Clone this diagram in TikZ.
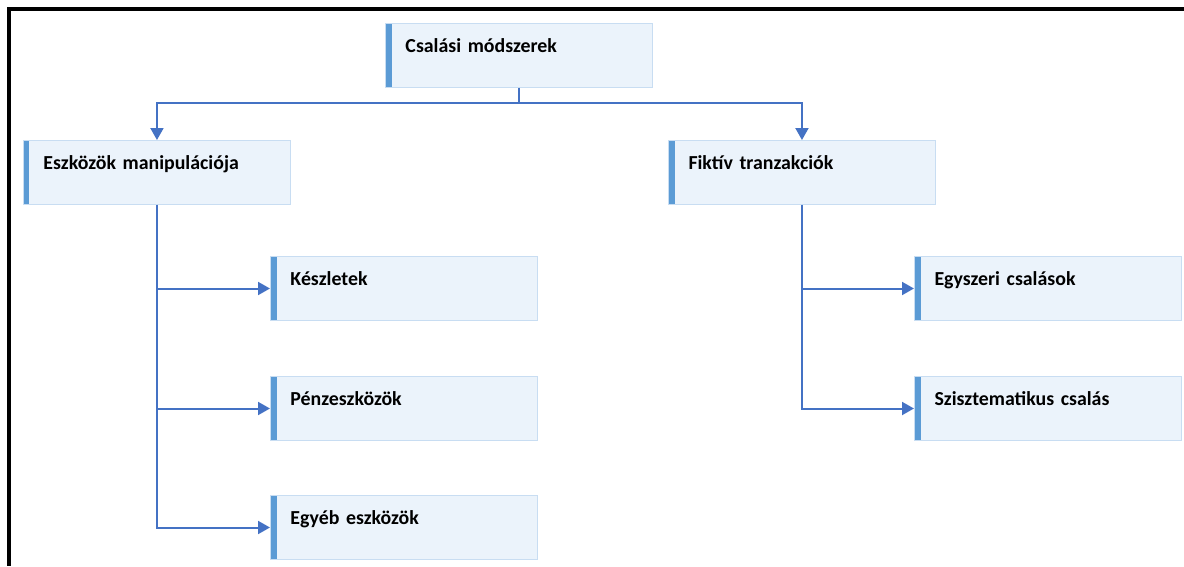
\documentclass[tikz,border=0pt]{standalone}
\usepackage{fontspec}
\setmainfont{Carlito}
\usetikzlibrary{arrows.meta,positioning,calc}
\definecolor{boxfill}{RGB}{235,243,251}
\definecolor{boxline}{RGB}{200,221,242}
\definecolor{accentblue}{RGB}{91,155,213}
\definecolor{connblue}{RGB}{68,114,196}

\tikzset{
    box/.style={rectangle, draw=boxline, line width=0.02cm, fill=boxfill,
        anchor=north west, inner xsep=0.4cm, inner ysep=0pt,
        text width=4.54cm, align=left, text height=0.58cm, text depth=0.7cm,
        font=\fontsize{11.3}{13}\selectfont\bfseries,
        path picture={\fill[accentblue] (path picture bounding box.north west)
            rectangle ([xshift=0.12cm]path picture bounding box.south west);}},
    conn/.style={draw=connblue, line width=0.04cm, -{Triangle[length=0.24cm,width=0.26cm]}}
}

\begin{document}
\begin{tikzpicture}[x=0.02cm, y=-0.02cm]
    \useasboundingbox (0,0) rectangle (1184,566);

    % Frame
    \draw[line width=0.08cm] (7,9) -- (1184,9);
    \draw[line width=0.08cm] (9,7) -- (9,566);

    % Boxes
    \foreach \name/\x/\y/\text in {
        top/385/23/Csalási módszerek,
        eszk/23/140/Eszközök manipulációja,
        fikt/668/140/Fiktív tranzakciók,
        kesz/270/256/Készletek,
        penz/270/376/Pénzeszközök,
        egyeb/270/495/Egyéb eszközök,
        egysz/914/256/Egyszeri csalások,
        szisz/914/376/Szisztematikus csalás
    } {
        \node[box] (\name) at (\x,\y) {\text};
    }

    % Connectors from the top box
    \draw[conn] (top.south) -- ++(0,15) -| (eszk.north);
    \draw[conn] (top.south) -- ++(0,15) -| (fikt.north);

    % Connectors to the lower boxes
    \foreach \parent/\child in {eszk/kesz, eszk/penz, eszk/egyeb, fikt/egysz, fikt/szisz} {
        \draw[conn] (\parent.south) |- (\child.west);
    }
\end{tikzpicture}
\end{document}
